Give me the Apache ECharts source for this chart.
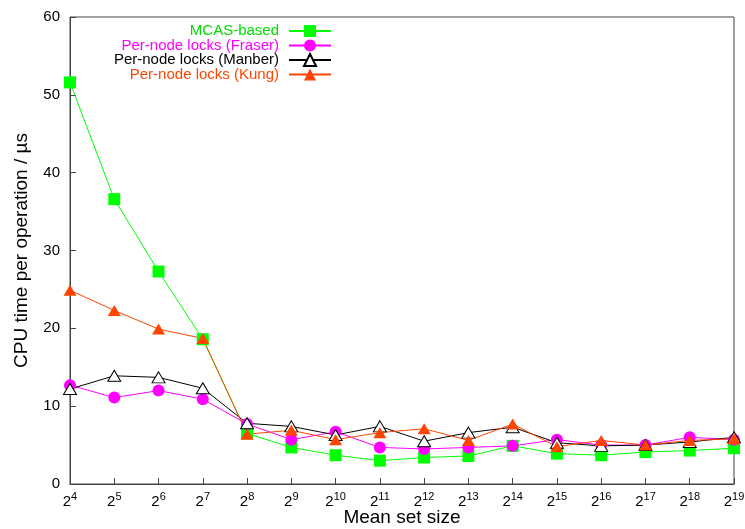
<!DOCTYPE html>
<html lang="en">
<head>
    <meta charset="UTF-8">
    <title>CPU time per operation</title>
    <script src="https://cdn.jsdelivr.net/npm/echarts@6/dist/echarts.min.js"></script>
    <style>
        body { margin: 0; background: #fff; }
    </style>
</head>
<body>
    <div id="main" style="width: 745px; height: 529px;"></div>
    <script>
        // x 轴: 2 的指数 (mean set size = 2^n)
        const exponents = [4, 5, 6, 7, 8, 9, 10, 11, 12, 13, 14, 15, 16, 17, 18, 19];
        const yTicks = [0, 10, 20, 30, 40, 50, 60];

        const seriesNames = ['MCAS-based', 'Per-node locks (Fraser)', 'Per-node locks (Manber)', 'Per-node locks (Kung)'];
        const mcas   = [51.6, 36.6, 27.3, 18.6, 6.5, 4.7, 3.7, 3.0, 3.4, 3.6, 4.9, 3.9, 3.7, 4.1, 4.3, 4.6];
        const fraser = [12.7, 11.1, 12.0, 10.9, 7.7, 5.7, 6.7, 4.7, 4.5, 4.7, 4.9, 5.7, 5.0, 5.0, 6.0, 5.7];
        const manber = [12.2, 13.9, 13.7, 12.3, 7.8, 7.4, 6.3, 7.4, 5.5, 6.6, 7.3, 5.3, 4.9, 5.0, 5.4, 6.0];
        const kung   = [24.9, 22.3, 19.9, 18.7, 6.4, 6.9, 5.7, 6.6, 7.1, 5.6, 7.7, 4.8, 5.6, 5.0, 5.6, 5.8];

        const font = '"Liberation Sans", Arial, Helvetica, sans-serif';

        function pairs(values) {
            return exponents.map((e, i) => [e, values[i]]);
        }

        var myChart = echarts.init(document.getElementById('main'));

        // 每个图例单独放, 让右侧的图标对齐
        const legendRows = [31.5, 46, 60.5, 75];
        const legendColors = ['#00dd00', '#ff00ff', '#000000', '#ff4500'];
        const legends = seriesNames.map((name, i) => ({
            data: [name],
            orient: 'vertical',
            align: 'right',
            right: 413,
            top: legendRows[i] - 8,
            padding: 0,
            itemWidth: 42,
            itemHeight: 15,
            selectedMode: false,
            textStyle: {
                fontFamily: font,
                fontSize: 15,
                color: legendColors[i],
                padding: [0, 5, 0, 0]
            }
        }));

        let option = {
            animation: false,
            backgroundColor: '#fff',
            grid: {
                left: 70,
                right: 11,
                top: 17,
                bottom: 45,
                outerBoundsMode: 'none',
                show: true,
                borderColor: '#444',
                borderWidth: 1
            },
            legend: legends,
            xAxis: {
                type: 'value',
                min: 4,
                max: 19,
                interval: 1,
                name: 'Mean set size',
                nameLocation: 'middle',
                nameGap: 24,
                nameMoveOverlap: false,
                nameTextStyle: { fontFamily: font, fontSize: 19, color: '#000', verticalAlign: 'top' },
                axisLine: { lineStyle: { color: '#444' } },
                axisTick: { inside: true, length: 6, lineStyle: { color: '#444' } },
                splitLine: { show: false },
                axisLabel: {
                    margin: 7,
                    color: '#000',
                    fontFamily: font,
                    formatter: v => '{b|2}{s|' + v + '}',
                    rich: {
                        b: { fontFamily: font, fontSize: 15, lineHeight: 18, verticalAlign: 'bottom', color: '#000' },
                        s: { fontFamily: font, fontSize: 11, lineHeight: 18, verticalAlign: 'top', color: '#000' }
                    }
                }
            },
            yAxis: {
                type: 'value',
                min: 0,
                max: 60,
                interval: 10,
                name: 'CPU time per operation / µs',
                nameLocation: 'middle',
                nameGap: 39,
                nameTextStyle: { fontFamily: font, fontSize: 19, color: '#000' },
                axisLine: { show: true, lineStyle: { color: '#444' } },
                axisTick: { show: true, inside: true, length: 6, lineStyle: { color: '#444' } },
                splitLine: { show: false },
                axisLabel: {
                    margin: 10,
                    color: '#000',
                    fontFamily: font,
                    fontSize: 15,
                    formatter: v => yTicks.includes(v) ? String(v) : ''
                }
            },
            series: [
                {
                    name: seriesNames[0],
                    type: 'line',
                    data: pairs(mcas),
                    symbol: 'rect',
                    symbolSize: 12,
                    lineStyle: { width: 1, color: '#00ff00' },
                    itemStyle: { color: '#00ff00' }
                },
                {
                    name: seriesNames[1],
                    type: 'line',
                    data: pairs(fraser),
                    symbol: 'circle',
                    symbolSize: 12,
                    lineStyle: { width: 1, color: '#ff00ff' },
                    itemStyle: { color: '#ff00ff' }
                },
                {
                    name: seriesNames[2],
                    type: 'line',
                    data: pairs(manber),
                    symbol: 'triangle',
                    symbolSize: [13, 11],
                    lineStyle: { width: 1, color: '#000' },
                    itemStyle: { color: '#fff', borderColor: '#000', borderWidth: 1 }
                },
                {
                    name: seriesNames[3],
                    type: 'line',
                    data: pairs(kung),
                    symbol: 'triangle',
                    symbolSize: [13, 11],
                    lineStyle: { width: 1, color: '#ff4500' },
                    itemStyle: { color: '#ff4500' }
                }
            ]
        };

        myChart.setOption(option);
    </script>
</body>
</html>
